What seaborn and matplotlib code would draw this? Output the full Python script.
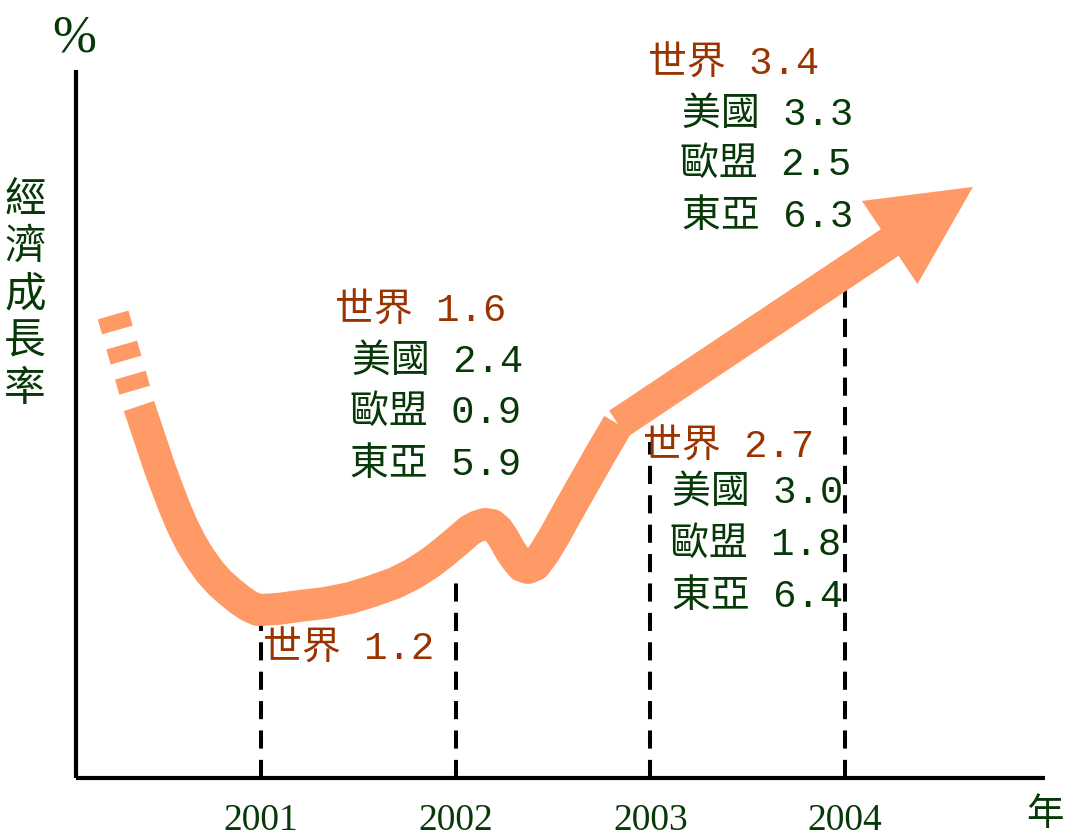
import matplotlib
matplotlib.use("Agg")
import matplotlib.pyplot as plt
import seaborn as sns

# ---------------- data ----------------
years = [2001, 2002, 2003, 2004]
year_labels = ["2001", "2002", "2003", "2004"]
world = [1.2, 1.6, 2.7, 3.4]
usa = [None, 2.4, 3.0, 3.3]
eu = [None, 0.9, 1.8, 2.5]
east_asia = [None, 5.9, 6.4, 6.3]

# schematic trend path (axis units): dashed lead-in, solid curve, arrow
lead_x = [2000.240, 2000.373]
lead_y = [3.270, 2.634]
trend_x = [2000.373, 2000.409, 2000.440, 2000.476, 2000.512, 2000.553, 2000.594,
           2000.640, 2000.687, 2000.738, 2000.789, 2000.841, 2000.892, 2000.938,
           2000.985, 2001.087, 2001.200, 2001.329, 2001.457, 2001.575, 2001.688,
           2001.781, 2001.868, 2001.935, 2001.997, 2002.074, 2002.115, 2002.151,
           2002.187, 2002.217, 2002.248, 2002.279, 2002.310, 2002.341, 2002.372,
           2002.408, 2002.454, 2002.510, 2002.572, 2002.639, 2002.741, 2002.834]
trend_y = [2.627, 2.479, 2.352, 2.203, 2.069, 1.921, 1.787,
           1.660, 1.554, 1.455, 1.377, 1.314, 1.257, 1.215,
           1.186, 1.194, 1.215, 1.236, 1.271, 1.321, 1.377,
           1.441, 1.518, 1.589, 1.660, 1.751, 1.780, 1.794,
           1.787, 1.751, 1.688, 1.610, 1.547, 1.497, 1.483,
           1.504, 1.589, 1.716, 1.871, 2.034, 2.281, 2.500]
arrow_tip = (2004.657, 4.174)
guide_top = [1.08, 1.40, 2.37, 3.45]   # top of each dashed year guide

# ---------------- style ----------------
sns.set_theme(style="white")
CJK = ["Liberation Mono", "Noto Sans CJK TC", "DejaVu Sans"]
plt.rcParams["font.family"] = CJK
SALMON = "#FF9966"
BROWN = "#993300"
GREEN = "#073807"

W, H = 1065, 836
fig = plt.figure(figsize=(W / 100, H / 100), dpi=100)
fig.patch.set_facecolor("white")
ax = fig.add_axes([76 / W, 58 / H, 969 / W, 708 / H])
ax.set_facecolor("white")

s_x = 584 / 3.0
ax.set_xlim(2001 - 185 / s_x, 2004 + 200 / s_x)
ax.set_ylim(0, 5)

# spines
for side in ["top", "right"]:
    ax.spines[side].set_visible(False)
for side in ["left", "bottom"]:
    ax.spines[side].set_visible(True)
    ax.spines[side].set_color("black")
    ax.spines[side].set_linewidth(3.0)
    ax.spines[side].set_capstyle("butt")

ax.set_yticks([])
ax.set_xticks(years)
ax.set_xticklabels(year_labels, family="Liberation Serif", fontsize=27, color=GREEN)
ax.tick_params(axis="x", length=0, pad=18)

# dashed year guides
ax.vlines(years, 0, guide_top, colors="black", linewidth=2.9,
          linestyles=(0, (4.5, 2.8)), zorder=2)

# trend curve
LW = 23
ax.plot(lead_x, lead_y, color=SALMON, linewidth=LW,
        linestyle=(0, (0.49, 0.49)), dash_capstyle="butt", zorder=3)
sns.lineplot(x=trend_x, y=trend_y, sort=False, ax=ax, color=SALMON,
             linewidth=LW, solid_capstyle="butt", solid_joinstyle="round",
             zorder=3, estimator=None)
ax.annotate("", xy=arrow_tip, xytext=(trend_x[-1], trend_y[-1]),
            arrowprops=dict(arrowstyle="simple,head_length=72,head_width=72,tail_width=23",
                            mutation_scale=1, color=SALMON, lw=0,
                            shrinkA=0, shrinkB=0),
            zorder=3)

# ---------------- text ----------------
def px(x, y):
    return x / W, 1 - y / H

FS = 28

def put(x, y, s, color):
    fig.text(*px(x, y), s, color=color, fontsize=FS, ha="left", va="center",
             family=CJK)

# 2001
put(263, 650, f"世界 {world[0]:.1f}", BROWN)
# 2002
put(335, 312, f"世界 {world[1]:.1f}", BROWN)
put(352, 362, f"美國 {usa[1]:.1f}", GREEN)
put(350, 413, f"歐盟 {eu[1]:.1f}", GREEN)
put(350, 465, f"東亞 {east_asia[1]:.1f}", GREEN)
# 2003
put(643, 448, f"世界 {world[2]:.1f}", BROWN)
put(672, 493, f"美國 {usa[2]:.1f}", GREEN)
put(670, 545, f"歐盟 {eu[2]:.1f}", GREEN)
put(672, 597, f"東亞 {east_asia[2]:.1f}", GREEN)
# 2004
put(648, 65, f"世界 {world[3]:.1f}", BROWN)
put(682, 115, f"美國 {usa[3]:.1f}", GREEN)
put(680, 165, f"歐盟 {eu[3]:.1f}", GREEN)
put(682, 217, f"東亞 {east_asia[3]:.1f}", GREEN)

# axis titles
fig.text(*px(74, 38), "%", color=GREEN, fontsize=38, ha="center", va="center",
         family="Liberation Serif")
for i, ch in enumerate("經濟成長率"):
    fig.text(*px(25, 200 + i * 47.5), ch, color=GREEN, fontsize=30,
             ha="center", va="center", family=["Noto Sans CJK TC"])
fig.text(*px(1045, 815), "年", color=GREEN, fontsize=27, ha="center",
         va="center", family=["Noto Sans CJK TC"])

fig.savefig("out.png", dpi=100, facecolor="white")
